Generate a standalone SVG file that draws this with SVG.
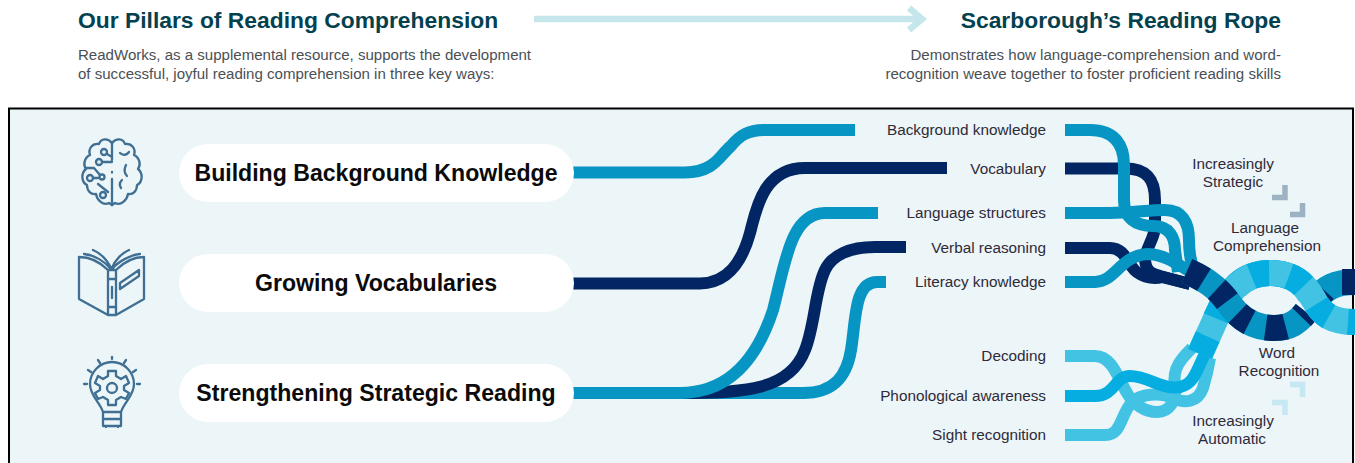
<svg xmlns="http://www.w3.org/2000/svg" width="1355" height="463" viewBox="0 0 1355 463">
<style>
text{font-family:"Liberation Sans",Arial,sans-serif}
.h{font-size:22.85px;font-weight:700;fill:#04414f}
.p{font-size:15.06px;fill:#4a4f55}
.l{font-size:15.3px;fill:#2f2a38}
.pill{font-size:23.1px;font-weight:700;fill:#0b0b0b;text-anchor:middle}
.r{text-anchor:end}
.m{text-anchor:middle}
.s{fill:none;stroke-width:12}
.a{stroke:#0795c3}.n{stroke:#012663}.c{stroke:#42c3e4}.b{stroke:#05ade0}
.i{fill:none;stroke:#3f6f93;stroke-width:2.300;stroke-linecap:round;stroke-linejoin:round}
.o{fill:none;stroke-width:26}
</style>
<defs>
<path id="d1" d="M1187 271C1205 279 1217 287 1228 302C1240 320 1255 328 1274 328C1290 328 1298 322 1306 312"/>
<path id="d2" d="M1315 300C1325 288 1335 282 1355 282"/>
<path id="l1" d="M1200 354C1205 342 1211 330 1216 318C1226 295 1240 273 1270 273C1290 273 1302 282 1310 294"/>
<path id="l2" d="M1236 287C1245 278 1255 273 1270 273C1295 273 1305 285 1314 300C1322 315 1332 322 1355 322"/>
</defs>
<rect width="1355" height="463" fill="#fff"/>
<rect x="9" y="108.500" width="1344" height="360" fill="#ecf5f8" stroke="#000" stroke-width="2"/>
<g id="header">
<text class="h" x="78" y="27.500">Our Pillars of Reading Comprehension</text>
<text class="p" x="78" y="60">ReadWorks, as a supplemental resource, supports the development</text>
<text class="p" x="78" y="79">of successful, joyful reading comprehension in three key ways:</text>
<text class="h r" x="1281" y="27.500">Scarborough’s Reading Rope</text>
<text class="p r" x="1281" y="60">Demonstrates how language-comprehension and word-</text>
<text class="p r" x="1281" y="79">recognition weave together to foster proficient reading skills</text>
<path d="M534 19H920M909 8l13 11-13 11" fill="none" stroke="#c5e7ec" stroke-width="6.500"/>
</g>
<g id="connectors">
<path class="s a" d="M573 172.500H685C715 172 720 155 730 147C740 135 748 130 765 130H855"/>
<path class="s n" d="M573 283.500H700C728 283 742 262 750 233C756 210 763 168 805 168H947"/>
<path class="s a" d="M690 393H803C835 393 847 375 851 350C856 320 854 282 877 282H886"/>
<path class="s n" d="M680 393C745 393 790 390 805 350C815 325 815 290 825 270C832 255 850 247 875 247H906"/>
<path class="s a" d="M573 393H680C735 393 760 350 773 310C785 265 790 213 825 213H878"/>
<g id="language-strands">
<path class="s n" d="M1065 168.500H1125C1148 168.500 1155 180 1155 200V225C1155 240 1146 245 1145 260C1146 270 1150 274 1160 276L1190 284"/>
<path class="s n" d="M1065 248H1110C1122 248 1126 258 1132 267C1138 276 1152 280 1162 277L1190 284"/>
<path class="s a" d="M1065 282H1095C1115 282 1120 256 1147 254C1162 254 1175 262 1192 273"/>
<path class="s a" d="M1065 130H1090C1115 130 1124 145 1124 165V200C1124 218 1135 226 1153 226C1170 226 1175 238 1175 250L1178 272"/>
<path class="s a" d="M1065 213H1110C1130 213 1150 210 1165 210C1182 210 1189 222 1189 240C1189 252 1190 262 1195 272"/>
</g>
<g id="word-strands">
<path class="s c" d="M1065 356H1095C1112 356 1118 378 1127 393C1133 404 1145 412 1157 412C1170 412 1177 400 1175 385C1172 368 1182 358 1192 348"/>
<path class="s c" d="M1065 435H1105C1122 435 1120 415 1132 402C1140 394 1160 392 1173 398C1185 404 1198 402 1203 388C1206 378 1208 370 1210 358"/>
<path class="s b" d="M1065 396H1095C1115 396 1115 376 1130 376C1148 376 1162 390 1180 387C1195 384 1197 368 1206 352"/>
</g>
<g id="rope">
<use href="#l1" class="o c" stroke-width="30"/>
<use href="#l1" class="o b" stroke-width="30" stroke-dasharray="19 20"/>
<use href="#d1" class="o a"/>
<use href="#d1" class="o n" stroke-dasharray="19 16 16 16 15 17 20 19 19 100"/>
<use href="#d2" class="o a"/>
<path class="o n" d="M1315 300L1324 290" />
<path class="o n" d="M1342 282H1355"/>
<use href="#l2" class="o c"/>
<use href="#l2" class="o b" stroke-dasharray="0 19 18 20 18 22 18 20 18 22 18 40"/>
</g>
</g>
<g id="pill-building"><rect x="179" y="144" width="395" height="58" rx="29" fill="#fff"/><text class="pill" x="376" y="181">Building Background Knowledge</text></g>
<g id="pill-growing"><rect x="179" y="254" width="395" height="58" rx="29" fill="#fff"/><text class="pill" x="376" y="291">Growing Vocabularies</text></g>
<g id="pill-strengthening"><rect x="179" y="364" width="395" height="58" rx="29" fill="#fff"/><text class="pill" x="376" y="401">Strengthening Strategic Reading</text></g>
<g id="labels">
<text class="l r" x="1046" y="135">Background knowledge</text>
<text class="l r" x="1046" y="174">Vocabulary</text>
<text class="l r" x="1046" y="218">Language structures</text>
<text class="l r" x="1046" y="253">Verbal reasoning</text>
<text class="l r" x="1046" y="287">Literacy knowledge</text>
<text class="l r" x="1046" y="361">Decoding</text>
<text class="l r" x="1046" y="401">Phonological awareness</text>
<text class="l r" x="1046" y="440">Sight recognition</text>
<text class="l m" x="1233" y="169">Increasingly</text>
<text class="l m" x="1233" y="187">Strategic</text>
<text class="l m" x="1265" y="233">Language</text>
<text class="l m" x="1267" y="251">Comprehension</text>
<text class="l m" x="1277" y="358">Word</text>
<text class="l m" x="1279" y="376">Recognition</text>
<text class="l m" x="1233" y="426">Increasingly</text>
<text class="l m" x="1232" y="444">Automatic</text>
</g>
<g id="chevrons" fill="none" stroke-width="5.500">
<path d="M1272 197.500H1285V185" stroke="#9db2c3"/><path d="M1290 214.500H1302.500V203" stroke="#9db2c3"/>
<path d="M1290 384.500H1302.500V397" stroke="#c6e8f3"/><path d="M1272 402.500H1285V415" stroke="#c6e8f3"/>
</g>
<g id="icon-brain" class="i">
<path d="M112 143C108 138 101 138 99 144C92 143 88 149 90 155C84 158 83 165 86 169C81 173 81 182 87 185C87 191 91 195 96 194C97 200 103 206 109 203L112 205"/>
<path d="M112 143C116 138 123 138 125 144C132 143 136 149 134 155C140 158 141 165 138 169C143 173 143 182 137 185C137 191 133 195 128 194C127 200 121 206 115 203L112 205"/>
<path d="M112 143V160M112 172V172.500M112 179V205M107 154L112 157M102 162H112M100 175L94 168H87M93 178H98M108 192L98 184M120 153C123 156 127 155 129 152M126 165C124 169 124 173 127 176M121 188C119 185 120 182 122 180"/>
<circle cx="104" cy="152" r="3"/><circle cx="99" cy="162" r="3"/><circle cx="90" cy="178" r="3"/><circle cx="102" cy="177" r="2.500"/><circle cx="103" cy="195" r="3"/>
</g>
<g id="icon-book" class="i">
<path d="M79 257V299L108 315V270C100 262 90 257 79 257ZM144 257V283M144 293V299L116 315V270C124 262 134 257 144 257ZM108 270H116V315H108ZM108 279H116M108 307H116M112 287V298M84 254C95 255 105 262 110 268M93 250C100 253 107 260 111 268M129 250C122 253 115 260 112 268M140 254C130 255 118 262 113 268M120 283L139 270V276L120 289Z"/>
</g>
<g id="icon-bulb" class="i">
<path d="M103 426V412C100 402 90 396 90 384C90 372 100 362 112 362C124 362 134 372 134 384C134 396 124 402 121 412V426ZM103 412H121M103 419H121M106 426V427M118 426V427M112 357V359M98 360L100 363M126 360L124 363M88 370L91 372M136 370L133 372M84 384H87M137 384H140"/>
<path d="M108 371H116L116 376L121 379L126 376L129 383L124 386V390L129 393L126 399L121 397L116 400V405H108V400L103 397L98 399L95 393L100 390V386L95 383L98 376L103 379L108 376Z"/>
<circle cx="112" cy="388" r="5"/>
</g>
</svg>
